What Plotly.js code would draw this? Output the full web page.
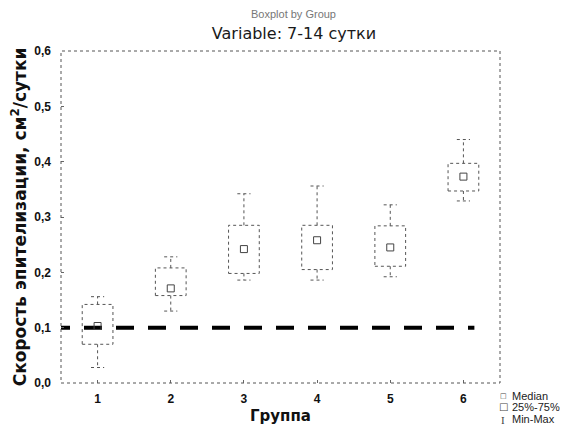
<!DOCTYPE html>
<html>
<head>
<meta charset="utf-8">
<script src="https://cdn.plot.ly/plotly-3.0.1.min.js"></script>
<style>html,body{margin:0;padding:0;background:#fff;}#chart{width:573px;height:442px;}</style>
</head>
<body>
<div id="chart"></div>
<script>
// ---- data ----
const groups = [1, 2, 3, 4, 5, 6];
const groupLabels = ['1', '2', '3', '4', '5', '6'];
const minVals    = [0.028, 0.130, 0.186, 0.186, 0.192, 0.329];
const q1Vals     = [0.070, 0.158, 0.198, 0.205, 0.211, 0.347];
const medianVals = [0.103, 0.171, 0.242, 0.258, 0.245, 0.373];
const q3Vals     = [0.142, 0.208, 0.285, 0.285, 0.284, 0.397];
const maxVals    = [0.156, 0.228, 0.342, 0.356, 0.322, 0.440];
const refValue = 0.1;
const refStart = 0.377;
const refEnd = 6.15;
const yTickVals = [0, 0.1, 0.2, 0.3, 0.4, 0.5, 0.6];

// ---- styles ----
const boxHalf = 0.21;
const capHalf = 0.09;
const lineCol = '#555';
const sansFont = 'Liberation Sans, Arial, sans-serif';
const wideFont = 'DejaVu Sans, sans-serif';

// build box rectangles
const bx = [], by = [];
groups.forEach((g, i) => {
  bx.push(g - boxHalf, g + boxHalf, g + boxHalf, g - boxHalf, g - boxHalf, null);
  by.push(q1Vals[i], q1Vals[i], q3Vals[i], q3Vals[i], q1Vals[i], null);
});
// whiskers with caps
const wx = [], wy = [];
groups.forEach((g, i) => {
  wx.push(g, g, null, g - capHalf, g + capHalf, null);
  wy.push(q3Vals[i], maxVals[i], null, maxVals[i], maxVals[i], null);
  wx.push(g, g, null, g - capHalf, g + capHalf, null);
  wy.push(q1Vals[i], minVals[i], null, minVals[i], minVals[i], null);
});

const traces = [
  { type: 'scatter', mode: 'lines', x: bx, y: by, fill: 'toself', fillcolor: '#fff',
    line: { color: lineCol, width: 1, dash: 'dot' }, name: '25%-75%', showlegend: false, hoverinfo: 'skip' },
  { type: 'scatter', mode: 'lines', x: [refStart, refEnd], y: [refValue, refValue],
    line: { color: '#000', width: 4, dash: '18px,14px' }, showlegend: false, hoverinfo: 'skip' },
  { type: 'scatter', mode: 'lines', x: wx, y: wy,
    line: { color: lineCol, width: 1, dash: 'dot' }, name: 'Min-Max', showlegend: false, hoverinfo: 'skip' },
  { type: 'scatter', mode: 'markers', x: groups, y: medianVals,
    marker: { symbol: 'square-open', size: 7, color: '#444', line: { width: 1 } }, name: 'Median', showlegend: false }
];

const L = 61, R = 500, T = 51, B = 383;
function px(x) { return (x - L) / (R - L); }
function py(y) { return (B - y) / (B - T); }

const annotations = [
  { text: 'Boxplot by Group', xref: 'paper', yref: 'paper', x: px(293), y: py(14), showarrow: false,
    font: { family: sansFont, size: 11, color: '#777' }, xanchor: 'center', yanchor: 'middle' },
  { text: '□', xref: 'paper', yref: 'paper', x: px(503), y: py(396), showarrow: false, borderpad: 0,
    font: { family: 'DejaVu Sans', size: 7, color: '#444' }, xanchor: 'center', yanchor: 'middle' },
  { text: 'Median', xref: 'paper', yref: 'paper', x: px(511), y: py(396), showarrow: false, borderpad: 0,
    font: { family: sansFont, size: 11, color: '#222' }, xanchor: 'left', yanchor: 'middle' },
  { text: '□', xref: 'paper', yref: 'paper', x: px(503), y: py(406), showarrow: false, borderpad: 0,
    font: { family: 'DejaVu Sans', size: 10, color: '#444' }, xanchor: 'center', yanchor: 'middle' },
  { text: '25%-75%', xref: 'paper', yref: 'paper', x: px(511), y: py(407), showarrow: false, borderpad: 0,
    font: { family: sansFont, size: 11, color: '#222' }, xanchor: 'left', yanchor: 'middle' },
  { text: 'I', xref: 'paper', yref: 'paper', x: px(503), y: py(420), showarrow: false, borderpad: 0,
    font: { family: 'Liberation Serif', size: 11, color: '#444' }, xanchor: 'center', yanchor: 'middle' },
  { text: 'Min-Max', xref: 'paper', yref: 'paper', x: px(511), y: py(419), showarrow: false, borderpad: 0,
    font: { family: sansFont, size: 11, color: '#222' }, xanchor: 'left', yanchor: 'middle' }
];

const layout = {
  width: 573, height: 442,
  margin: { l: L, r: 573 - R, t: T, b: 442 - B, pad: 0 },
  paper_bgcolor: '#fff', plot_bgcolor: '#fff',
  separators: ', ',
  showlegend: false,
  title: { text: 'Variable: 7-14 сутки', xref: 'container', yref: 'container',
    x: 294 / 573, xanchor: 'center', y: 1 - 33 / 442, yanchor: 'middle',
    font: { family: wideFont, size: 16, color: '#1a1a1a' } },
  xaxis: {
    range: [0.5, 6.5], tickvals: groups, ticktext: groupLabels,
    showgrid: false, zeroline: false, showline: false,
    ticks: 'inside', ticklen: 3, tickcolor: '#666',
    tickfont: { family: sansFont, size: 12, weight: 'bold', color: '#111' },
    ticklabelstandoff: 7,
    title: { text: 'Группа', standoff: 5, font: { family: wideFont, size: 15, weight: 'bold', color: '#111' } },
    fixedrange: true
  },
  yaxis: {
    range: [0, 0.6], tickvals: yTickVals, tickformat: '.1f',
    showgrid: false, zeroline: false, showline: false,
    ticks: 'inside', ticklen: 3, tickcolor: '#666',
    tickfont: { family: sansFont, size: 12, weight: 'bold', color: '#111' },
    ticklabelstandoff: 9,
    title: { text: 'Скорость эпителизации, см<sup>2</sup>/сутки', standoff: 3,
      font: { family: wideFont, size: 17, weight: 'bold', color: '#111' } },
    fixedrange: true
  },
  shapes: [
    { type: 'rect', xref: 'paper', yref: 'paper', x0: 0, x1: 1, y0: 0, y1: 1,
      line: { color: '#555', width: 1, dash: 'dot' }, layer: 'above' }
  ],
  annotations: annotations
};

Plotly.newPlot('chart', traces, layout, { staticPlot: true, displayModeBar: false });
</script>
</body>
</html>
